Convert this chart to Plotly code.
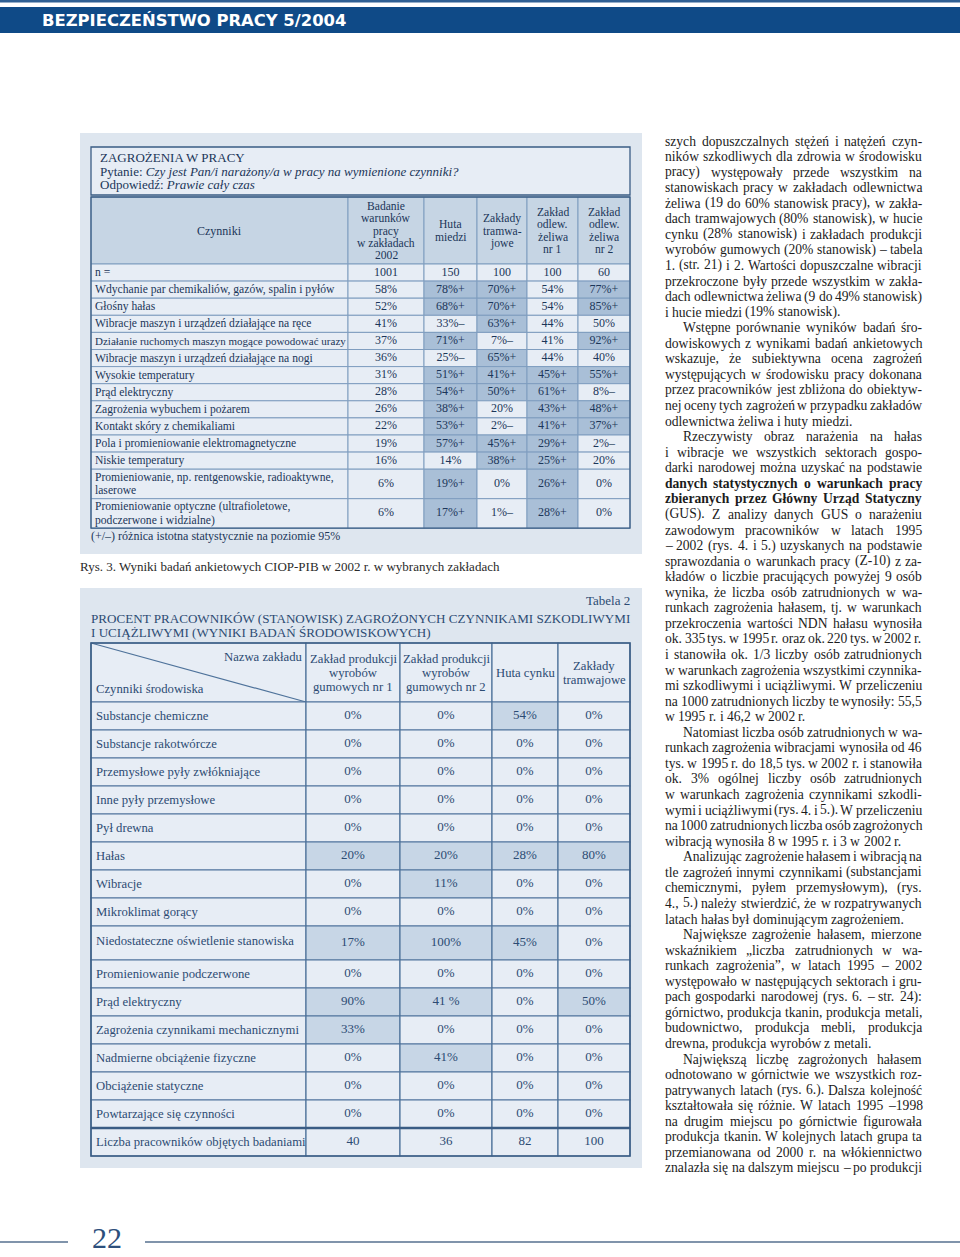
import plotly.graph_objects as go

# ---------------- data ----------------
T1_COLUMNS = [
    "Badanie\nwarunków\npracy\nw zakładach\n2002",
    "Huta\nmiedzi",
    "Zakłady\ntramwa-\njowe",
    "Zakład\nodlew.\nżeliwa\nnr 1",
    "Zakład\nodlew.\nżeliwa\nnr 2",
]
T1_N = ["1001", "150", "100", "100", "60"]
T1_FACTORS = [
    "Wdychanie par chemikaliów, gazów, spalin i pyłów",
    "Głośny hałas",
    "Wibracje maszyn i urządzeń działające na ręce",
    "Działanie ruchomych maszyn mogące powodować urazy",
    "Wibracje maszyn i urządzeń działające na nogi",
    "Wysokie temperatury",
    "Prąd elektryczny",
    "Zagrożenia wybuchem i pożarem",
    "Kontakt skóry z chemikaliami",
    "Pola i promieniowanie elektromagnetyczne",
    "Niskie temperatury",
    "Promieniowanie, np. rentgenowskie, radioaktywne,\nlaserowe",
    "Promieniowanie optyczne (ultrafioletowe,\npodczerwone i widzialne)",
]
T1_VALUES = [
    ["58%", "78%+", "70%+", "54%", "77%+"],
    ["52%", "68%+", "70%+", "54%", "85%+"],
    ["41%", "33%–", "63%+", "44%", "50%"],
    ["37%", "71%+", "7%–", "41%", "92%+"],
    ["36%", "25%–", "65%+", "44%", "40%"],
    ["31%", "51%+", "41%+", "45%+", "55%+"],
    ["28%", "54%+", "50%+", "61%+", "8%–"],
    ["26%", "38%+", "20%", "43%+", "48%+"],
    ["22%", "53%+", "2%–", "41%+", "37%+"],
    ["19%", "57%+", "45%+", "29%+", "2%–"],
    ["16%", "14%", "38%+", "25%+", "20%"],
    ["6%", "19%+", "0%", "26%+", "0%"],
    ["6%", "17%+", "1%–", "28%+", "0%"],
]

T2_COLUMNS = [
    "Zakład produkcji\nwyrobów\ngumowych nr 1",
    "Zakład produkcji\nwyrobów\ngumowych nr 2",
    "Huta cynku",
    "Zakłady\ntramwajowe",
]
T2_FACTORS = [
    "Substancje chemiczne",
    "Substancje rakotwórcze",
    "Przemysłowe pyły zwłókniające",
    "Inne pyły przemysłowe",
    "Pył drewna",
    "Hałas",
    "Wibracje",
    "Mikroklimat gorący",
    "Niedostateczne oświetlenie stanowiska",
    "Promieniowanie podczerwone",
    "Prąd elektryczny",
    "Zagrożenia czynnikami mechanicznymi",
    "Nadmierne obciążenie fizyczne",
    "Obciążenie statyczne",
    "Powtarzające się czynności",
]
T2_VALUES = [
    ["0%", "0%", "54%", "0%"],
    ["0%", "0%", "0%", "0%"],
    ["0%", "0%", "0%", "0%"],
    ["0%", "0%", "0%", "0%"],
    ["0%", "0%", "0%", "0%"],
    ["20%", "20%", "28%", "80%"],
    ["0%", "11%", "0%", "0%"],
    ["0%", "0%", "0%", "0%"],
    ["17%", "100%", "45%", "0%"],
    ["0%", "0%", "0%", "0%"],
    ["90%", "41 %", "0%", "50%"],
    ["33%", "0%", "0%", "0%"],
    ["0%", "41%", "0%", "0%"],
    ["0%", "0%", "0%", "0%"],
    ["0%", "0%", "0%", "0%"],
]
T2_COUNT_LABEL = "Liczba pracowników objętych badaniami"
T2_COUNTS = ["40", "36", "82", "100"]

# body text column: paragraphs of lines ("**" = bold line)
BODY = [
    ["szych dopuszczalnych stężeń i natężeń czyn-",
     "ników szkodliwych dla zdrowia w środowisku",
     "pracy) występowały przede wszystkim na",
     "stanowiskach pracy w zakładach odlewnictwa",
     "żeliwa (19 do 60% stanowisk pracy), w zakła-",
     "dach tramwajowych (80% stanowisk), w hucie",
     "cynku (28% stanowisk) i zakładach produkcji",
     "wyrobów gumowych (20% stanowisk) – tabela",
     "1. (str. 21) i 2. Wartości dopuszczalne wibracji",
     "przekroczone były przede wszystkim w zakła-",
     "dach odlewnictwa żeliwa (9 do 49% stanowisk)",
     "i hucie miedzi (19% stanowisk)."],
    ["Wstępne porównanie wyników badań śro-",
     "dowiskowych z wynikami badań ankietowych",
     "wskazuje, że subiektywna ocena zagrożeń",
     "występujących w środowisku pracy dokonana",
     "przez pracowników jest zbliżona do obiektyw-",
     "nej oceny tych zagrożeń w przypadku zakładów",
     "odlewnictwa żeliwa i huty miedzi."],
    ["Rzeczywisty obraz narażenia na hałas",
     "i wibracje we wszystkich sektorach gospo-",
     "darki narodowej można uzyskać na podstawie",
     "**danych statystycznych o warunkach pracy",
     "**zbieranych przez Główny Urząd Statyczny",
     "(GUS). Z analizy danych GUS o narażeniu",
     "zawodowym pracowników w latach 1995",
     "– 2002 (rys. 4. i 5.) uzyskanych na podstawie",
     "sprawozdania o warunkach pracy (Z-10) z za-",
     "kładów o liczbie pracujących powyżej 9 osób",
     "wynika, że liczba osób zatrudnionych w wa-",
     "runkach zagrożenia hałasem, tj. w warunkach",
     "przekroczenia wartości NDN hałasu wynosiła",
     "ok. 335 tys. w 1995 r. oraz ok. 220 tys. w 2002 r.",
     "i stanowiła ok. 1/3 liczby osób zatrudnionych",
     "w warunkach zagrożenia wszystkimi czynnika-",
     "mi szkodliwymi i uciążliwymi. W przeliczeniu",
     "na 1000 zatrudnionych liczby te wynosiły: 55,5",
     "w 1995 r. i 46,2 w 2002 r."],
    ["Natomiast liczba osób zatrudnionych w wa-",
     "runkach zagrożenia wibracjami wynosiła od 46",
     "tys. w 1995 r. do 18,5 tys. w 2002 r. i stanowiła",
     "ok. 3% ogólnej liczby osób zatrudnionych",
     "w warunkach zagrożenia czynnikami szkodli-",
     "wymi i uciążliwymi (rys. 4. i 5.). W przeliczeniu",
     "na 1000 zatrudnionych liczba osób zagrożonych",
     "wibracją wynosiła 8 w 1995 r. i 3 w 2002 r."],
    ["Analizując zagrożenie hałasem i wibracją na",
     "tle zagrożeń innymi czynnikami (substancjami",
     "chemicznymi, pyłem przemysłowym), (rys.",
     "4., 5.) należy stwierdzić, że w rozpatrywanych",
     "latach hałas był dominującym zagrożeniem."],
    ["Największe zagrożenie hałasem, mierzone",
     "wskaźnikiem „liczba zatrudnionych w wa-",
     "runkach zagrożenia”, w latach 1995 – 2002",
     "występowało w następujących sektorach i gru-",
     "pach gospodarki narodowej (rys. 6. – str. 24):",
     "górnictwo, produkcja tkanin, produkcja metali,",
     "budownictwo, produkcja mebli, produkcja",
     "drewna, produkcja wyrobów z metali."],
    ["Największą liczbę zagrożonych hałasem",
     "odnotowano w górnictwie we wszystkich roz-",
     "patrywanych latach (rys. 6.). Dalsza kolejność",
     "kształtowała się różnie. W latach 1995 –1998",
     "na drugim miejscu po górnictwie figurowała",
     "produkcja tkanin. W kolejnych latach grupa ta",
     "przemianowana od 2000 r. na włókiennictwo",
     "znalazła się na dalszym miejscu – po produkcji"],
]

# ---------------- styles ----------------
SERIF = "Liberation Serif, Times New Roman, serif"
NAVY = "#1b3659"
NAVY2 = "#2c4b73"
PANEL = "#dee6ef"
CELL = "#e7edf5"
HEAD = "#c6d5e4"
HI1 = "#a9bfd7"
HI2 = "#c7d6e6"
GRID1 = "#7f9dbf"
GRID2 = "#4f739b"
EDGE = "#3a5c84"

shapes, anns = [], []

# Times-like advance widths (per 1000 em), used for fitting and justifying text
_TR = {" ": 250, "!": 333, "%": 833, "(": 333, ")": 333, ",": 250, "-": 333, ".": 250,
       "/": 278, ":": 278, ";": 278, "?": 444, "–": 500, "„": 444, "”": 444,
       "A": 722, "B": 667, "C": 667, "D": 722, "E": 611, "F": 556, "G": 722, "H": 722,
       "I": 333, "J": 389, "K": 722, "L": 611, "M": 889, "N": 722, "O": 722, "P": 556,
       "Q": 722, "R": 667, "S": 556, "T": 611, "U": 722, "V": 722, "W": 944, "X": 722,
       "Y": 722, "Z": 611, "a": 444, "b": 500, "c": 444, "d": 500, "e": 444, "f": 333,
       "g": 500, "h": 500, "i": 278, "j": 278, "k": 500, "l": 278, "m": 778, "n": 500,
       "o": 500, "p": 500, "q": 500, "r": 333, "s": 389, "t": 278, "u": 500, "v": 500,
       "w": 722, "x": 500, "y": 500, "z": 444}
_TB = dict(_TR, **{"a": 500, "b": 556, "d": 556, "h": 556, "k": 556, "m": 833, "n": 556,
                   "p": 556, "r": 444, "t": 333, "u": 556, "G": 778, "U": 722})
_PL = str.maketrans("ąćęłńóśźżĄĆĘŁŃÓŚŹŻ", "acelnoszzACELNOSZZ")


def width(s, size, bold=False):
    tbl = _TB if bold else _TR
    return sum(500 if ch.isdigit() else tbl.get(ch, 500) for ch in s.translate(_PL)) * size / 1000


def rect(x0, y0, x1, y1, fill, line=None, lw=0):
    shapes.append(dict(type="rect", xref="x", yref="y", x0=x0, y0=y0, x1=x1, y1=y1,
                       fillcolor=fill, line=dict(color=line or fill, width=lw), layer="below"))


def hline(x0, x1, y, color, lw):
    shapes.append(dict(type="line", xref="x", yref="y", x0=x0, x1=x1, y0=y, y1=y,
                       line=dict(color=color, width=lw), layer="below"))


def text(x, y, s, size, color, anchor="left", step=None, **kw):
    lines = s.split("\n")
    step = step or size * 1.05
    y0 = y - step * (len(lines) - 1) / 2
    for i, ln in enumerate(lines):
        anns.append(dict(x=x, y=y0 + i * step, xref="x", yref="y", text=ln, showarrow=False,
                         xanchor=anchor, yanchor="middle", borderpad=0, borderwidth=0,
                         font=dict(family=kw.get("family", SERIF), size=size, color=color)))


# ---------------- page header / footer ----------------
rect(0, 0, 960, 2.5, "#2f5f93")
rect(0, 7, 960, 33, "#0f4a87")
text(42, 20.5, "<b>BEZPIECZEŃSTWO PRACY 5/2004</b>", 16.4, "white",
     family="DejaVu Sans, Arial, sans-serif")
hline(0, 68, 1242, "#56718f", 1.5)
hline(145, 960, 1242, "#56718f", 1.5)
text(107, 1237, "22", 30, "#2d4f7c", anchor="center")

# ---------------- table 1 (Rys. 3) ----------------
rect(80, 133, 642, 554, PANEL)
rect(91, 147, 630, 195, CELL, EDGE, 1.3)
text(100, 157, "ZAGROŻENIA W PRACY", 13, NAVY)
text(100, 171, "Pytanie: <i>Czy jest Pan/i narażony/a w pracy na wymienione czynniki?</i>", 13, NAVY)
text(100, 184.5, "Odpowiedź: <i>Prawie cały czas</i>", 13, NAVY)

T1_X = [91, 348, 424, 477, 527, 578, 630]
T1_HEAD = (197, 264)
t1_edges = [T1_HEAD[1]]
for f in ["n ="] + T1_FACTORS:
    t1_edges.append(t1_edges[-1] + (29.5 if "\n" in f else 17.1))

for c in range(len(T1_X) - 1):
    rect(T1_X[c], T1_HEAD[0], T1_X[c + 1], T1_HEAD[1], HEAD, GRID1, 1)
text((T1_X[0] + T1_X[1]) / 2, 231, "Czynniki", 12, NAVY, anchor="center")
for c, name in enumerate(T1_COLUMNS):
    text((T1_X[c + 1] + T1_X[c + 2]) / 2, 231, name, 11.6, NAVY, anchor="center", step=12.3)

t1_rows = [("n =", T1_N)] + list(zip(T1_FACTORS, T1_VALUES))
vx, vy, vt = [], [], []
for r, (label, vals) in enumerate(t1_rows):
    y0, y1 = t1_edges[r], t1_edges[r + 1]
    rect(T1_X[0], y0, T1_X[1], y1, CELL, GRID1, 1)
    longest = max(label.split("\n"), key=lambda s: width(s, 11.6))
    size = min(11.6, 11.6 * 251 / width(longest, 11.6))
    text(95, (y0 + y1) / 2, label, size, NAVY, step=13.2)
    for c, v in enumerate(vals):
        rect(T1_X[c + 1], y0, T1_X[c + 2], y1, HI1 if v.endswith("+") else CELL, GRID1, 1)
        vx.append((T1_X[c + 1] + T1_X[c + 2]) / 2)
        vy.append((y0 + y1) / 2)
        vt.append(v)
fig = go.Figure()
fig.add_trace(go.Scatter(x=vx, y=vy, text=vt, mode="text", hoverinfo="skip", showlegend=False,
                         textfont=dict(family=SERIF, size=12, color=NAVY)))
rect(T1_X[0], T1_HEAD[0], T1_X[-1], t1_edges[-1], "rgba(0,0,0,0)", EDGE, 1.3)
text(91, 536, "(+/–) różnica istotna statystycznie na poziomie 95%", 12, NAVY)
text(80, 566.5, "Rys. 3. Wyniki badań ankietowych CIOP-PIB w 2002 r. w wybranych zakładach", 13, "#2a2a2a")

# ---------------- table 2 ----------------
rect(80, 588, 642, 1168, PANEL)
text(630, 600, "Tabela 2", 13, NAVY2, anchor="right")
text(91, 618, "PROCENT PRACOWNIKÓW (STANOWISK) ZAGROŻONYCH CZYNNIKAMI SZKODLIWYMI", 13.1, NAVY2)
text(91, 632, "I UCIĄŻLIWYMI (WYNIKI BADAŃ ŚRODOWISKOWYCH)", 13.1, NAVY2)

T2_X = [91, 306, 400, 492, 558, 630]
T2_HEAD = (643, 702)
t2_rows = list(zip(T2_FACTORS, T2_VALUES)) + [(T2_COUNT_LABEL, T2_COUNTS)]
t2_edges = [T2_HEAD[1]]
for f, _ in t2_rows:
    t2_edges.append(t2_edges[-1] + (34 if f.startswith("Niedost") else 28))

for c in range(len(T2_X) - 1):
    rect(T2_X[c], T2_HEAD[0], T2_X[c + 1], T2_HEAD[1], CELL, GRID2, 1.2)
shapes.append(dict(type="line", xref="x", yref="y", x0=T2_X[0], y0=T2_HEAD[0], x1=T2_X[1],
                   y1=T2_HEAD[1], line=dict(color=GRID2, width=1.2), layer="below"))
text(302, 657, "Nazwa zakładu", 12.7, NAVY2, anchor="right")
text(96, 689, "Czynniki środowiska", 12.7, NAVY2)
for c, name in enumerate(T2_COLUMNS):
    text((T2_X[c + 1] + T2_X[c + 2]) / 2, 673, name, 12.7, NAVY2, anchor="center", step=13.6)

wx, wy, wt = [], [], []
for r, (label, vals) in enumerate(t2_rows):
    y0, y1 = t2_edges[r], t2_edges[r + 1]
    last = r == len(t2_rows) - 1
    rect(T2_X[0], y0, T2_X[1], y1, CELL, GRID2, 1.2)
    text(96, (y0 + y1) / 2 - (2 if y1 - y0 > 30 else 0), label, 12.7, NAVY2)
    for c, v in enumerate(vals):
        hi = (not last) and v.replace(" ", "") != "0%"
        rect(T2_X[c + 1], y0, T2_X[c + 2], y1, HI2 if hi else CELL, GRID2, 1.2)
        wx.append((T2_X[c + 1] + T2_X[c + 2]) / 2)
        wy.append((y0 + y1) / 2)
        wt.append(v)
fig.add_trace(go.Scatter(x=wx, y=wy, text=wt, mode="text", hoverinfo="skip", showlegend=False,
                         textfont=dict(family=SERIF, size=13, color=NAVY2)))
hline(T2_X[0], T2_X[-1], t2_edges[-2], EDGE, 2.4)
rect(T2_X[0], T2_HEAD[0], T2_X[-1], t2_edges[-1], "rgba(0,0,0,0)", EDGE, 1.5)

# ---------------- body text column (justified word by word) ----------------
B_LEFT, B_RIGHT, B_TOP, B_STEP, B_IND, B_SIZE = 665, 922, 141, 15.56, 18, 13.6
i = 0
for p, para in enumerate(BODY):
    for k, line in enumerate(para):
        bold = line.startswith("**")
        line = line.lstrip("*")
        words = line.split(" ")
        x = B_LEFT + (B_IND if (k == 0 and p > 0) else 0)
        ws = [width(w, B_SIZE, bold) for w in words]
        is_last = k == len(para) - 1 and p < len(BODY) - 1
        gap = width(" ", B_SIZE) if is_last or len(words) < 2 else \
            (B_RIGHT - x - sum(ws)) / (len(words) - 1)
        y = B_TOP + i * B_STEP
        for w, ww in zip(words, ws):
            text(x, y, f"<b>{w}</b>" if bold else w, B_SIZE, "#1c1c1c")
            x += ww + gap
        i += 1

fig.update_layout(
    width=960, height=1257, margin=dict(l=0, r=0, t=0, b=0),
    paper_bgcolor="white", plot_bgcolor="white",
    xaxis=dict(range=[0, 960], visible=False, fixedrange=True),
    yaxis=dict(range=[1257, 0], visible=False, fixedrange=True),
    shapes=shapes, annotations=anns, showlegend=False,
)
fig.write_html("out.html", config={"displayModeBar": False},
               post_script="document.body.style.margin='0px';")
